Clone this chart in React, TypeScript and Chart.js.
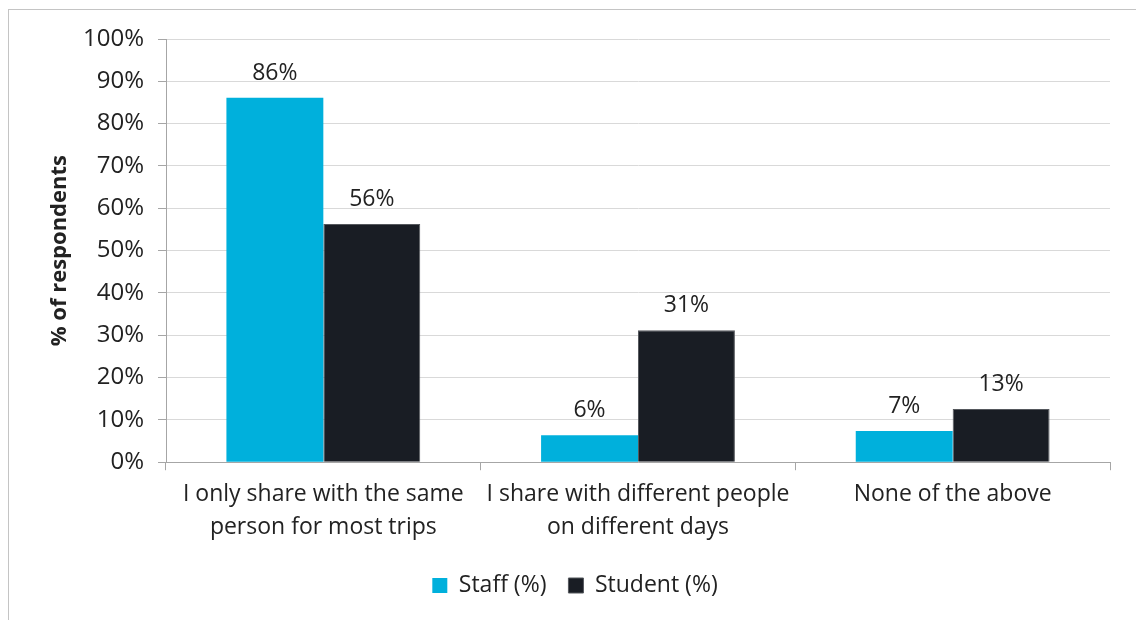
import React, { useEffect, useRef } from 'react';
import { Chart, registerables } from 'chart.js';

Chart.register(...registerables);

const categories: (string | string[])[] = [
  ['I only share with the same', 'person for most trips'],
  ['I share with different people', 'on different days'],
  'None of the above',
];
const seriesNames = ['Staff (%)', 'Student (%)'];
const staffValues = [86.1, 6.4, 7.4];
const studentValues = [56.3, 31.2, 12.6];
const yAxisTitle = '% of respondents';

const FONT = "'Open Sans', sans-serif";
const TEXT = '#222222';
const AXIS = '#a6a6a6';

const dataLabelPlugin = {
  id: 'barValueLabels',
  afterDatasetsDraw(chart: any) {
    const ctx = chart.ctx;
    ctx.save();
    ctx.font = `23px ${FONT}`;
    ctx.fillStyle = TEXT;
    ctx.textAlign = 'center';
    ctx.textBaseline = 'alphabetic';
    chart.data.datasets.forEach((ds: any, i: number) => {
      const meta = chart.getDatasetMeta(i);
      meta.data.forEach((el: any, j: number) => {
        const v = ds.data[j] as number;
        ctx.fillText(Math.round(v) + '%', el.x, el.y - 18);
      });
    });
    ctx.restore();
  },
};

export default function App() {
  const ref = useRef<HTMLCanvasElement | null>(null);
  useEffect(() => {
    if (!ref.current) return;
    const chart = new Chart(ref.current, {
      type: 'bar',
      data: {
        labels: categories,
        datasets: [
          {
            label: seriesNames[0],
            data: staffValues,
            backgroundColor: '#00B0DC',
            borderWidth: 0,
            barPercentage: 1,
            categoryPercentage: 0.616,
          },
          {
            label: seriesNames[1],
            data: studentValues,
            backgroundColor: '#191D24',
            borderColor: '#55585d',
            borderWidth: 1,
            barPercentage: 1,
            categoryPercentage: 0.616,
          },
        ],
      },
      options: {
        responsive: false,
        animation: false,
        layout: { padding: { left: 40, right: 26, top: 39, bottom: 13 } },
        plugins: {
          legend: {
            position: 'bottom',
            labels: {
              boxWidth: 15,
              boxHeight: 15,
              padding: 22,
              color: TEXT,
              font: { family: FONT, size: 23 },
            },
          },
          tooltip: { enabled: false },
        },
        scales: {
          x: {
            grid: {
              display: true,
              drawOnChartArea: false,
              drawTicks: true,
              tickLength: 8,
              offset: true,
              tickColor: AXIS,
            },
            border: { color: AXIS, width: 1 },
            ticks: {
              color: TEXT,
              font: { family: FONT, size: 23, lineHeight: 1.43 },
              padding: 8,
              maxRotation: 0,
              autoSkip: false,
            },
          },
          y: {
            min: 0,
            max: 100,
            ticks: {
              stepSize: 10,
              callback: (v: any) => v + '%',
              color: TEXT,
              font: { family: FONT, size: 24 },
              padding: 14,
            },
            grid: { color: '#d9d9d9', tickColor: AXIS, tickLength: 8 },
            border: { color: AXIS, width: 1 },
            title: {
              display: true,
              text: yAxisTitle,
              color: TEXT,
              font: { family: FONT, size: 22, weight: 'bold' },
              padding: { top: 7, bottom: 0 },
            },
            afterFit: (s: any) => {
              s.width = 126;
            },
          },
        },
      },
      plugins: [dataLabelPlugin],
    } as any);
    return () => chart.destroy();
  }, []);

  return (
    <>
      <div
        style={{
          position: 'fixed',
          left: 8,
          top: 9,
          width: 1140,
          height: 700,
          border: '1px solid #c4c4c4',
          background: '#fff',
        }}
      />
      <canvas
        ref={ref}
        width={1136}
        height={620}
        style={{ position: 'fixed', left: 0, top: 0, display: 'block' }}
      />
    </>
  );
}
